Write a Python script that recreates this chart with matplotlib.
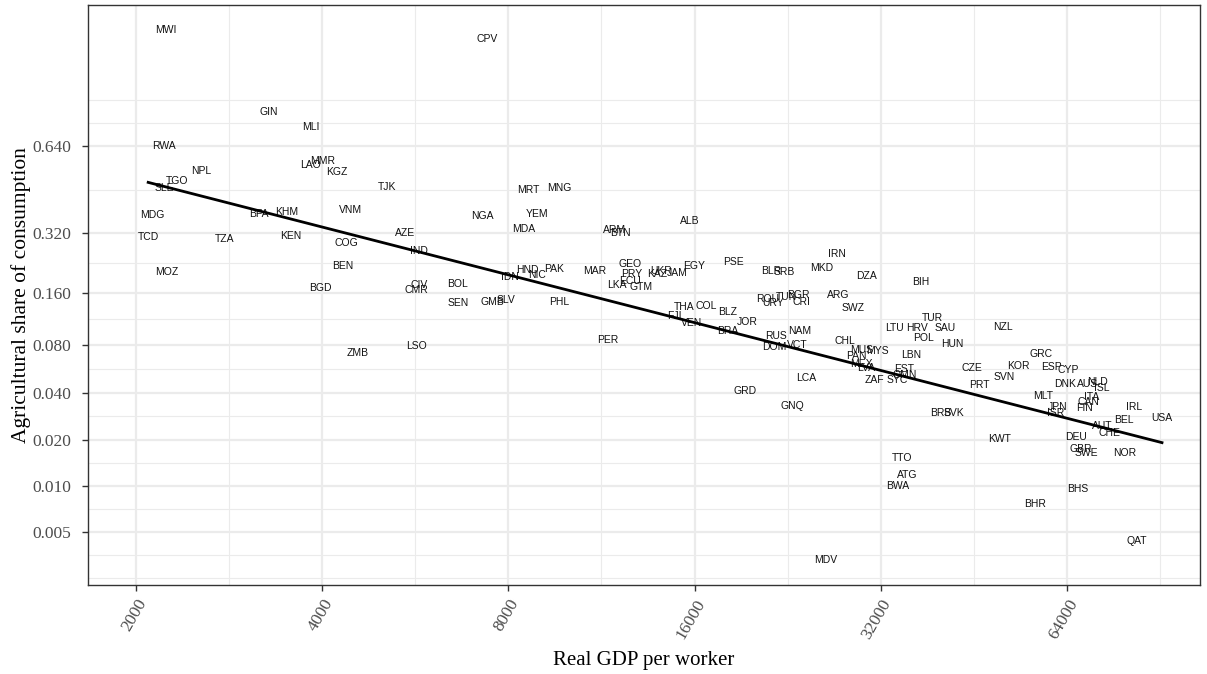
import numpy as np
import matplotlib
matplotlib.use("Agg")
import matplotlib.pyplot as plt
from matplotlib.ticker import FixedLocator, NullFormatter

# country codes, real GDP per worker, agricultural share of consumption
codes = ["MWI", "GIN", "MLI", "RWA", "LAO", "MMR", "KGZ", "NPL", "TGO", "SLE",
         "CPV", "TJK", "MRT", "MNG", "MDG", "BFA", "KHM", "VNM", "TCD", "TZA",
         "KEN", "COG", "MOZ", "BEN", "BGD", "ZMB", "NGA", "YEM", "MDA", "AZE",
         "IND", "ARM", "BTN", "GEO", "PRY", "HND", "NIC", "PAK", "MAR", "IDN",
         "CIV", "CMR", "BOL", "LKA", "ECU", "GTM", "SEN", "GMB", "SLV", "PHL",
         "LSO", "PER", "ALB", "KAZ", "UKR", "JAM", "EGY", "PSE", "BLR", "SRB",
         "IRN", "MKD", "DZA", "BIH", "ROU", "URY", "TUN", "BGR", "CRI", "ARG",
         "SWZ", "THA", "COL", "BLZ", "FJI", "VEN", "JOR", "BRA", "RUS", "NAM",
         "DOM", "VCT", "CHL", "LTU", "HRV", "TUR", "POL", "MUS", "MYS", "PAN",
         "MEX", "LVA", "LBN", "EST", "OMN", "ZAF", "SYC", "LCA", "GRD", "SAU",
         "HUN", "NZL", "GRC", "CZE", "KOR", "ESP", "CYP", "SVN", "PRT", "DNK",
         "AUS", "NLD", "ISL", "MLT", "ITA", "CAN", "JPN", "FIN", "ISR", "IRL",
         "BRB", "SVK", "USA", "BEL", "AUT", "CHE", "KWT", "DEU", "GBR", "SWE",
         "NOR", "BHS", "BHR", "QAT", "GNQ", "TTO", "ATG", "BWA", "MDV"]

gdp = [2231, 3278, 3832, 2220, 3826, 4002, 4218, 2554, 2327, 2222,
       7387, 5086, 8628, 9683, 2125, 3161, 3509, 4448, 2094, 2778,
       3565, 4375, 2242, 4311, 3967, 4570, 7270, 8889, 8469, 5438,
       5729, 11883, 12152, 12579, 12658, 8583, 8909, 9480, 11043, 8057,
       5729, 5678, 6631, 11972, 12566, 13121, 6642, 7526, 7938, 9683,
       5686, 11578, 15728, 13926, 14136, 15000, 15947, 18458, 21240, 22318,
       27185, 25709, 30395, 37123, 20971, 21422, 22543, 23573, 23803, 27286,
       28885, 15364, 16712, 18071, 14857, 15804, 19469, 18071, 21687, 23688,
       21501, 23423, 27975, 33700, 36576, 38720, 37485, 29835, 31550, 29210,
       29757, 30314, 35846, 34886, 35018, 31198, 33990, 24222, 19325, 40685,
       41712, 50490, 58160, 44934, 53325, 60362, 64314, 50752, 46240, 63523,
       69025, 71827, 72717, 58528, 70246, 69205, 61888, 68352, 61360, 82131,
       39994, 42019, 91150, 79040, 72986, 74835, 49741, 66253, 67341, 68870,
       79424, 66502, 56877, 82955, 23019, 34627, 35276, 34115, 26066]

share = [0.9124, 0.748, 0.7045, 0.641, 0.570, 0.5849, 0.5438, 0.5487, 0.5097, 0.4831,
         0.900, 0.4869, 0.4755, 0.4854, 0.3838, 0.3874, 0.3957, 0.403, 0.3083, 0.3028,
         0.3126, 0.2902, 0.2082, 0.2237, 0.171, 0.0713, 0.3813, 0.3885, 0.3338, 0.3224,
         0.2657, 0.3305, 0.3224, 0.229, 0.2033, 0.2118, 0.2008, 0.2143, 0.21, 0.1945,
         0.1769, 0.1667, 0.1784, 0.1762, 0.1852, 0.1731, 0.141, 0.1429, 0.1466, 0.1429,
         0.0787, 0.0855, 0.3635, 0.2033, 0.21, 0.2057, 0.2229, 0.2344, 0.21, 0.2082,
         0.2569, 0.2169, 0.1984, 0.1829, 0.1474, 0.1405, 0.1524, 0.1558, 0.1423, 0.1564,
         0.1321, 0.1338, 0.1356, 0.1252, 0.1178, 0.1072, 0.1095, 0.0969, 0.0904, 0.0961,
         0.0776, 0.0795, 0.0844, 0.1001, 0.1009, 0.1151, 0.0879, 0.0741, 0.073, 0.0678,
         0.0607, 0.0573, 0.0693, 0.0565, 0.0516, 0.048, 0.048, 0.0494, 0.0413, 0.1009,
         0.0809, 0.1023, 0.0703, 0.0576, 0.0593, 0.0584, 0.0555, 0.0506, 0.0449, 0.0457,
         0.0457, 0.0467, 0.0428, 0.0384, 0.0375, 0.0349, 0.0324, 0.0321, 0.0299, 0.0327,
         0.0299, 0.0299, 0.0278, 0.027, 0.0247, 0.0222, 0.0203, 0.021, 0.0175, 0.0165,
         0.0165, 0.0096, 0.0076, 0.0044, 0.0332, 0.0153, 0.0119, 0.0101, 0.0033]

# fitted line (linear in log GDP / logit share)
fit_gdp = [2093, 91150]
fit_share = [0.5059, 0.0192]

x_breaks = [2000, 4000, 8000, 16000, 32000, 64000]
x_labels = ["2000", "4000", "8000", "16000", "32000", "64000"]
y_breaks = [0.005, 0.01, 0.02, 0.04, 0.08, 0.16, 0.32, 0.64]
y_labels = ["0.005", "0.010", "0.020", "0.040", "0.080", "0.160", "0.320", "0.640"]


def logit(p):
    p = np.asarray(p, dtype=float)
    return np.log(p / (1 - p))


def expit(z):
    return 1 / (1 + np.exp(-z))


def minor_breaks(t):
    # midpoints between majors, extended one step past each end
    t = np.asarray(t, dtype=float)
    step = t[1] - t[0]
    t = np.concatenate([[t[0] - step], t, [t[-1] + step]])
    mids = (t[:-1] + t[1:]) / 2
    return np.sort(np.concatenate([mids, t[[0, -1]]]))


x_minor = 2.0 ** minor_breaks(np.log2(x_breaks))
y_minor = expit(minor_breaks(logit(y_breaks)))

serif = ["Liberation Serif", "DejaVu Serif"]

fig = plt.figure(figsize=(12.07, 6.74), dpi=100)
ax = fig.add_axes([88 / 1207, 1 - 585 / 674, 1112 / 1207, 580 / 674])
ax.set_xscale("log")
ax.set_yscale("logit")
ax.set_xlim(1673, 105000)
ax.set_ylim(0.002243, 0.9382)

ax.xaxis.set_major_locator(FixedLocator(x_breaks))
ax.xaxis.set_minor_locator(FixedLocator(x_minor))
ax.yaxis.set_major_locator(FixedLocator(y_breaks))
ax.yaxis.set_minor_locator(FixedLocator(y_minor))
ax.xaxis.set_minor_formatter(NullFormatter())
ax.yaxis.set_minor_formatter(NullFormatter())
ax.set_xticklabels(x_labels, rotation=60, ha="right", va="top",
                   rotation_mode="anchor", family=serif, fontsize=12.5, color="#4D4D4D")
ax.set_yticklabels(y_labels, family=serif, fontsize=12.5, color="#4D4D4D")

ax.grid(which="major", color="#EBEBEB", linewidth=1.6)
ax.grid(which="minor", color="#EBEBEB", linewidth=0.8)
ax.set_axisbelow(True)
ax.tick_params(which="major", length=4, width=1, color="#333333")
ax.tick_params(axis="y", which="major", pad=8)
ax.tick_params(axis="x", which="major", pad=4)
ax.tick_params(which="minor", length=0)
for sp in ax.spines.values():
    sp.set_color("#333333")
    sp.set_linewidth(1.0)

for c, g, s in zip(codes, gdp, share):
    ax.text(g, s, c, ha="center", va="center", fontsize=7.5,
            family="Liberation Sans", color="#111111", zorder=3)

ax.plot(fit_gdp, fit_share, color="black", linewidth=2.0, zorder=4)

ax.set_xlabel("Real GDP per worker", family=serif, fontsize=15, labelpad=7)
ax.set_ylabel("Agricultural share of consumption", family=serif, fontsize=15.5, labelpad=1)

fig.savefig("out.png", dpi=100)
